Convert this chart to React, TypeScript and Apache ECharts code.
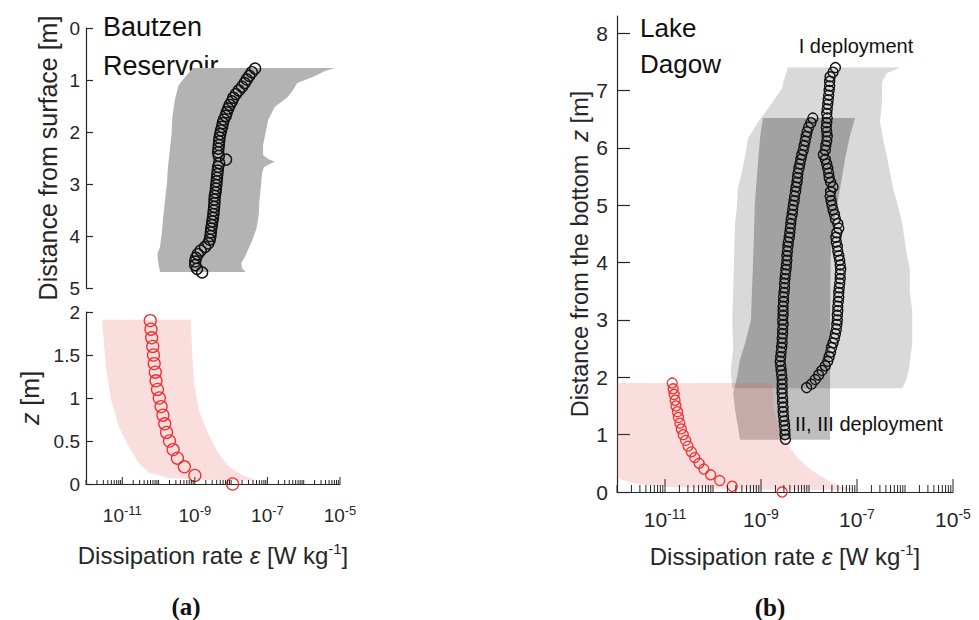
import React, { useEffect, useRef } from 'react';
import * as echarts from 'echarts';

// ---------- data (depth/height in m, dissipation as log10 of W kg^-1) ----------
// (a) Bautzen Reservoir – measured profile, [depth from surface, log10 eps]
const bautzenProfile: number[][] = [
  [0.78, -7.34], [0.85, -7.43], [0.92, -7.5], [0.99, -7.57], [1.06, -7.63], [1.13, -7.7], [1.2, -7.79],
  [1.27, -7.87], [1.34, -7.94], [1.41, -7.98], [1.48, -8.04], [1.55, -8.08], [1.62, -8.12], [1.69, -8.15],
  [1.76, -8.2], [1.83, -8.23], [1.9, -8.25], [1.97, -8.28], [2.04, -8.3], [2.11, -8.32], [2.18, -8.33],
  [2.25, -8.34], [2.32, -8.35], [2.39, -8.36], [2.46, -8.34], [2.53, -8.14], [2.6, -8.33], [2.67, -8.36],
  [2.74, -8.37], [2.81, -8.38], [2.88, -8.39], [2.95, -8.4], [3.02, -8.41], [3.09, -8.42], [3.16, -8.43],
  [3.23, -8.45], [3.3, -8.46], [3.37, -8.46], [3.44, -8.47], [3.51, -8.48], [3.58, -8.49], [3.65, -8.5],
  [3.72, -8.52], [3.79, -8.53], [3.86, -8.55], [3.93, -8.56], [4.0, -8.57], [4.07, -8.59], [4.14, -8.63],
  [4.21, -8.72], [4.28, -8.84], [4.35, -8.92], [4.42, -8.97], [4.49, -8.99], [4.56, -8.99], [4.63, -8.94],
  [4.7, -8.8],
];
// grey envelope of (a) top: left edge top->bottom, right edge bottom->top
const bautzenBandLeft: number[][] = [
  [0.77, -9.05], [0.94, -9.27], [1.1, -9.45], [1.38, -9.55], [1.71, -9.62], [2.02, -9.64], [2.35, -9.69],
  [2.67, -9.74], [2.98, -9.77], [3.31, -9.82], [3.63, -9.87], [3.94, -9.91], [4.21, -9.96], [4.33, -10.03],
  [4.46, -10.02], [4.58, -9.99], [4.69, -9.96],
];
const bautzenBandRight: number[][] = [
  [4.69, -7.6], [4.62, -7.7], [4.52, -7.72], [4.4, -7.62], [4.21, -7.5], [4.05, -7.4], [3.85, -7.3],
  [3.6, -7.24], [3.31, -7.22], [3.05, -7.18], [2.8, -7.15], [2.68, -7.1], [2.62, -6.95], [2.57, -6.8],
  [2.52, -6.98], [2.44, -7.12], [2.25, -7.12], [2.02, -7.05], [1.77, -6.98], [1.52, -6.8], [1.33, -6.45],
  [1.2, -6.3], [1.06, -6.18], [0.94, -5.75], [0.82, -5.4], [0.77, -5.14],
];
// (a) bottom – model near the bed, [z, log10 eps]
const bautzenModel: number[][] = [
  [0, -7.96], [0.1, -9.0], [0.2, -9.29], [0.3, -9.48], [0.4, -9.6], [0.5, -9.7], [0.6, -9.78], [0.7, -9.83],
  [0.8, -9.88], [0.9, -9.93], [1.0, -9.98], [1.1, -10.03], [1.2, -10.07], [1.3, -10.09], [1.4, -10.12],
  [1.5, -10.14], [1.6, -10.16], [1.7, -10.19], [1.8, -10.21], [1.9, -10.23],
];
const bautzenModelBandLeft: number[][] = [
  [1.91, -11.56], [1.76, -11.53], [1.36, -11.45], [0.98, -11.31], [0.66, -11.09], [0.43, -10.82],
  [0.24, -10.54], [0.13, -10.26], [0.07, -9.71], [0.05, -8.78], [0.04, -7.6],
];
const bautzenModelBandRight: number[][] = [
  [0.04, -7.3], [0.1, -7.67], [0.2, -8.06], [0.36, -8.36], [0.59, -8.64], [0.86, -8.89], [1.17, -9.02],
  [1.56, -9.08], [1.91, -9.11],
];

// (b) Lake Dagow – I deployment, [z above bottom, log10 eps]
const dagowDeployI: number[][] = [
  [7.4, -7.45], [7.32, -7.5], [7.24, -7.56], [7.16, -7.57], [7.08, -7.57], [7.0, -7.58], [6.92, -7.59],
  [6.84, -7.6], [6.76, -7.61], [6.68, -7.62], [6.6, -7.63], [6.52, -7.62], [6.44, -7.63], [6.36, -7.64],
  [6.28, -7.63], [6.2, -7.62], [6.12, -7.63], [6.04, -7.65], [5.96, -7.66], [5.88, -7.7], [5.8, -7.66],
  [5.72, -7.63], [5.64, -7.61], [5.56, -7.59], [5.48, -7.58], [5.4, -7.55], [5.32, -7.5], [5.24, -7.55],
  [5.16, -7.56], [5.08, -7.54], [5.0, -7.52], [4.92, -7.5], [4.84, -7.47], [4.76, -7.45], [4.68, -7.4],
  [4.6, -7.38], [4.52, -7.42], [4.44, -7.44], [4.36, -7.43], [4.28, -7.41], [4.2, -7.4], [4.12, -7.38],
  [4.04, -7.36], [3.96, -7.35], [3.88, -7.34], [3.8, -7.35], [3.72, -7.35], [3.64, -7.36], [3.56, -7.37],
  [3.48, -7.38], [3.4, -7.38], [3.32, -7.39], [3.24, -7.4], [3.16, -7.4], [3.08, -7.41], [3.0, -7.41],
  [2.92, -7.42], [2.84, -7.43], [2.76, -7.45], [2.68, -7.47], [2.6, -7.5], [2.52, -7.53], [2.44, -7.55],
  [2.36, -7.58], [2.28, -7.61], [2.2, -7.66], [2.12, -7.73], [2.04, -7.8], [1.96, -7.87], [1.88, -7.95],
  [1.82, -8.05],
];
// (b) II, III deployment
const dagowDeployII: number[][] = [
  [6.52, -7.92], [6.44, -7.96], [6.36, -8.01], [6.28, -8.04], [6.2, -8.06], [6.12, -8.08], [6.04, -8.1],
  [5.96, -8.12], [5.88, -8.15], [5.8, -8.17], [5.72, -8.19], [5.64, -8.21], [5.56, -8.23], [5.48, -8.24],
  [5.4, -8.25], [5.32, -8.27], [5.24, -8.28], [5.16, -8.3], [5.08, -8.31], [5.0, -8.33], [4.92, -8.34],
  [4.84, -8.35], [4.76, -8.37], [4.68, -8.38], [4.6, -8.39], [4.52, -8.4], [4.44, -8.41], [4.36, -8.43],
  [4.28, -8.44], [4.2, -8.45], [4.12, -8.46], [4.04, -8.46], [3.96, -8.47], [3.88, -8.48], [3.8, -8.49],
  [3.72, -8.5], [3.64, -8.51], [3.56, -8.51], [3.48, -8.52], [3.4, -8.53], [3.32, -8.53], [3.24, -8.54],
  [3.16, -8.54], [3.08, -8.54], [3.0, -8.55], [2.92, -8.54], [2.84, -8.55], [2.76, -8.55], [2.68, -8.56],
  [2.6, -8.56], [2.52, -8.57], [2.44, -8.58], [2.36, -8.59], [2.28, -8.6], [2.2, -8.59], [2.12, -8.58],
  [2.04, -8.57], [1.96, -8.56], [1.88, -8.56], [1.8, -8.56], [1.72, -8.56], [1.64, -8.55], [1.56, -8.55],
  [1.48, -8.54], [1.4, -8.54], [1.32, -8.53], [1.24, -8.52], [1.16, -8.51], [1.08, -8.5], [1.0, -8.5],
  [0.92, -8.49],
];
const dagowBandILeft: number[][] = [
  [7.4, -8.44], [7.14, -8.54], [7.04, -8.56], [6.74, -8.81], [6.45, -9.06], [6.17, -9.27], [5.87, -9.33],
  [5.57, -9.4], [5.3, -9.48], [5.0, -9.5], [4.7, -9.54], [4.13, -9.56], [3.5, -9.58], [3.0, -9.6],
  [2.5, -9.58], [2.13, -9.63], [1.81, -9.6],
];
const dagowBandIRight: number[][] = [
  [1.81, -6.05], [1.95, -5.98], [2.13, -5.92], [2.6, -5.85], [3.17, -5.85], [3.5, -5.9], [3.9, -5.9],
  [4.13, -5.96], [4.7, -6.06], [5.0, -6.15], [5.3, -6.25], [5.57, -6.31], [5.87, -6.38], [6.17, -6.46],
  [6.45, -6.52], [6.79, -6.48], [7.14, -6.48], [7.3, -6.38], [7.4, -6.1],
];
const dagowBandIILeft: number[][] = [
  [6.52, -8.96], [6.3, -9.0], [6.17, -9.02], [5.57, -9.08], [5.0, -9.13], [4.42, -9.15], [3.9, -9.17],
  [3.47, -9.19], [3.0, -9.21], [2.6, -9.33], [2.3, -9.44], [2.0, -9.5], [1.72, -9.58], [1.43, -9.54],
  [1.13, -9.48], [0.91, -9.44],
];
const dagowBandIIRight: number[][] = [
  [0.91, -7.56], [2.0, -7.56], [3.0, -7.56], [4.0, -7.55], [4.3, -7.54], [4.8, -7.46], [5.3, -7.35],
  [5.8, -7.25], [6.2, -7.15], [6.52, -7.04],
];
const dagowModel: number[][] = [
  [0, -8.56], [0.1, -9.6], [0.2, -9.86], [0.3, -10.05], [0.4, -10.19], [0.5, -10.29], [0.6, -10.38],
  [0.7, -10.45], [0.8, -10.52], [0.9, -10.57], [1.0, -10.62], [1.1, -10.66], [1.2, -10.69], [1.3, -10.72],
  [1.4, -10.74], [1.5, -10.77], [1.6, -10.79], [1.7, -10.81], [1.8, -10.83], [1.9, -10.85],
];
const dagowModelBandLeft: number[][] = [
  [1.9, -12.6], [0.6, -12.4], [0.35, -12.15], [0.22, -11.92], [0.16, -11.7], [0.12, -11.4], [0.09, -11.0],
  [0.07, -10.3], [0.05, -9.5], [0.04, -8.5],
];
const dagowModelBandRight: number[][] = [
  [0.04, -6.8], [0.06, -7.1], [0.1, -7.35], [0.17, -7.55], [0.3, -7.8], [0.44, -8.04], [0.6, -8.25],
  [0.86, -8.46], [1.2, -8.65], [1.43, -8.73], [1.9, -8.77],
];

// axes
const xMin = 1e-12;
const xMax = 1e-5;
const decadeExponents = [-12, -11, -10, -9, -8, -7, -6, -5];
const minorMultipliers = [2, 3, 4, 5, 6, 7, 8, 9];
const xLabelValues = [1e-11, 1e-9, 1e-7, 1e-5];
const yTicksTop = [0, 1, 2, 3, 4, 5];
const yTicksBottom = [0, 0.5, 1, 1.5, 2];
const yTicksDagow = [0, 1, 2, 3, 4, 5, 6, 7, 8];

const FONT = '"Liberation Sans", Arial, Helvetica, sans-serif';
const AX = '#262626';

// kind: 0 = labelled decade, 1 = other decade, 2 = minor
const xTickData: number[][] = [];
decadeExponents.forEach((e) => {
  const v = Math.pow(10, e);
  xTickData.push([v, xLabelValues.some((l) => Math.abs(Math.log10(l) - e) < 1e-6) ? 0 : 1]);
  if (v < xMax) minorMultipliers.forEach((m) => xTickData.push([m * v, 2]));
});

const toXY = (pts: number[][]) => pts.map(([z, lg]) => [Math.pow(10, lg), z]);

function bandSeries(xi: number, left: number[][], right: number[][], fill: string, z: number) {
  return {
    type: 'custom',
    xAxisIndex: xi,
    yAxisIndex: xi,
    clip: true,
    silent: true,
    z,
    data: [[1e-9, 1]],
    renderItem: (params: any, api: any) => {
      const pts = toXY([...left, ...right]).map((p) => api.coord(p));
      return { type: 'polygon', shape: { points: pts }, style: { fill } };
    },
  };
}

function circleSeries(xi: number, pts: number[][], color: string, size: number, bw: number) {
  return {
    type: 'scatter',
    xAxisIndex: xi,
    yAxisIndex: xi,
    symbol: 'circle',
    symbolSize: size,
    silent: true,
    clip: false,
    z: 5,
    data: toXY(pts),
    itemStyle: { color: 'rgba(0,0,0,0)', borderColor: color, borderWidth: bw, opacity: 1 },
  };
}

function tickSeries(xi: number, lens: number[]) {
  return {
    type: 'custom',
    xAxisIndex: xi,
    yAxisIndex: xi,
    clip: false,
    silent: true,
    z: 6,
    data: xTickData,
    renderItem: (params: any, api: any) => {
      const v = api.value(0);
      const kind = api.value(1);
      const p = api.coord([v, 0]);
      return {
        type: 'line',
        shape: { x1: p[0], y1: p[1], x2: p[0], y2: p[1] - lens[kind] },
        style: { stroke: AX, lineWidth: 1 },
      };
    },
  };
}

function xAxisCfg(gi: number, show: boolean, fs: number, sfs: number, margin: number, nameFs: number, nameGap: number) {
  return {
    gridIndex: gi,
    type: 'log',
    logBase: 10,
    min: xMin,
    max: xMax,
    show,
    axisLine: { show: true, lineStyle: { color: AX, width: 1.2 } },
    axisTick: { show: false },
    splitLine: { show: false },
    minorTick: { show: false },
    axisLabel: {
      show: true,
      customValues: xLabelValues,
      margin,
      formatter: (v: number) => `{b|10}{s|${Math.round(Math.log10(v))}}`,
      rich: {
        b: { fontSize: fs, lineHeight: fs + 4, fontFamily: FONT, color: AX },
        s: { fontSize: sfs, lineHeight: sfs, verticalAlign: 'top', fontFamily: FONT, color: AX },
      },
    },
    name: '{n|Dissipation rate }{i|ε}{n| [W kg}{s|-1}{n|]}',
    nameLocation: 'middle',
    nameGap,
    nameTextStyle: {
      rich: {
        n: { fontSize: nameFs, lineHeight: nameFs + 4, fontFamily: FONT, color: AX },
        i: { fontSize: nameFs, lineHeight: nameFs + 4, fontFamily: FONT, color: AX, fontStyle: 'italic' },
        s: { fontSize: nameFs * 0.62, lineHeight: nameFs * 0.62, verticalAlign: 'top', fontFamily: FONT, color: AX },
      },
    },
  };
}

function yAxisCfg(
  gi: number, min: number, max: number, ticks: number[], inverse: boolean,
  fs: number, tickLen: number, margin: number, name: string, nameFs: number, nameGap: number,
) {
  return {
    gridIndex: gi,
    type: 'value',
    min,
    max,
    inverse,
    axisLine: { show: true, lineStyle: { color: AX, width: 1.2 } },
    axisTick: { show: true, inside: true, length: tickLen, customValues: ticks, lineStyle: { color: AX, width: 1.2 } },
    splitLine: { show: false },
    axisLabel: {
      customValues: ticks,
      fontSize: fs,
      fontFamily: FONT,
      color: AX,
      margin,
      formatter: (v: number) => String(v),
    },
    name,
    nameLocation: 'middle',
    nameGap,
    nameTextStyle: {
      fontSize: nameFs,
      fontFamily: FONT,
      color: AX,
      rich: {
        n: { fontSize: nameFs, fontFamily: FONT, color: AX },
        i: { fontSize: nameFs, fontFamily: FONT, color: AX, fontStyle: 'italic' },
      },
    },
  };
}

function textEl(text: string, x: number, y: number, size: number, opts: any = {}) {
  return {
    type: 'text',
    x,
    y,
    silent: true,
    style: {
      text,
      fill: opts.fill || '#111',
      font: `${opts.weight || 'normal'} ${size}px ${opts.family || FONT}`,
      textAlign: opts.align || 'left',
      textVerticalAlign: 'middle',
    },
  };
}

export default function App() {
  const ref = useRef<HTMLDivElement>(null);
  useEffect(() => {
    if (!ref.current) return;
    const chart = echarts.init(ref.current, undefined, { renderer: 'svg' });
    const option: any = {
      animation: false,
      backgroundColor: '#ffffff',
      grid: [
        { left: 86, top: 28, width: 254, height: 260, outerBoundsMode: 'none', containLabel: false },
        { left: 86, top: 312, width: 254, height: 172, outerBoundsMode: 'none', containLabel: false },
        { left: 617, top: 16, width: 336, height: 476, outerBoundsMode: 'none', containLabel: false },
      ],
      xAxis: [
        xAxisCfg(0, false, 19, 13, 20, 24, 57),
        xAxisCfg(1, true, 19, 13, 20, 24, 57),
        xAxisCfg(2, true, 21, 14, 15, 24, 50),
      ],
      yAxis: [
        yAxisCfg(0, 0, 5, yTicksTop, true, 19, 7, 6, 'Distance from surface [m]', 25, 26),
        yAxisCfg(1, 0, 2, yTicksBottom, false, 19, 7, 6, '{i|z}{n| [m]}', 25, 44),
        yAxisCfg(2, 0, 8.3, yTicksDagow, false, 21, 13, 9, '{n|Distance from the bottom  }{i|z}{n| [m]}', 23.5, 23),
      ],
      series: [
        bandSeries(0, bautzenBandLeft, bautzenBandRight, '#b3b3b3', 1),
        circleSeries(0, bautzenProfile, '#111111', 11, 1.4),
        bandSeries(1, bautzenModelBandLeft, bautzenModelBandRight, 'rgba(232,90,90,0.2)', 1),
        circleSeries(1, bautzenModel, '#f03030', 12, 1.3),
        tickSeries(1, [7, 4, 4]),
        bandSeries(2, dagowBandILeft, dagowBandIRight, 'rgba(0,0,0,0.15)', 1),
        bandSeries(2, dagowBandIILeft, dagowBandIIRight, 'rgba(0,0,0,0.25)', 2),
        bandSeries(2, dagowModelBandLeft, dagowModelBandRight, 'rgba(232,90,90,0.2)', 3),
        circleSeries(2, dagowDeployI, '#111111', 10, 1.4),
        circleSeries(2, dagowDeployII, '#111111', 10, 1.4),
        circleSeries(2, dagowModel, '#f03030', 10, 1.3),
        tickSeries(2, [13, 7, 7]),
      ],
      graphic: [
        textEl('Bautzen', 103, 27, 27),
        textEl('Reservoir', 103, 66, 27),
        textEl('Lake', 640, 28, 26),
        textEl('Dagow', 640, 64, 26),
        textEl('I deployment', 856, 46, 20, { align: 'center' }),
        textEl('II, III deployment', 795, 424, 20),
        textEl('(a)', 186, 606, 25, { weight: 'bold', family: '"Liberation Serif", "DejaVu Serif", serif', align: 'center' }),
        textEl('(b)', 770, 607, 25, { weight: 'bold', family: '"Liberation Serif", "DejaVu Serif", serif', align: 'center' }),
      ],
    };
    chart.setOption(option);
    return () => chart.dispose();
  }, []);
  return <div ref={ref} style={{ position: 'absolute', left: 0, top: 0, width: 979, height: 620 }} />;
}
